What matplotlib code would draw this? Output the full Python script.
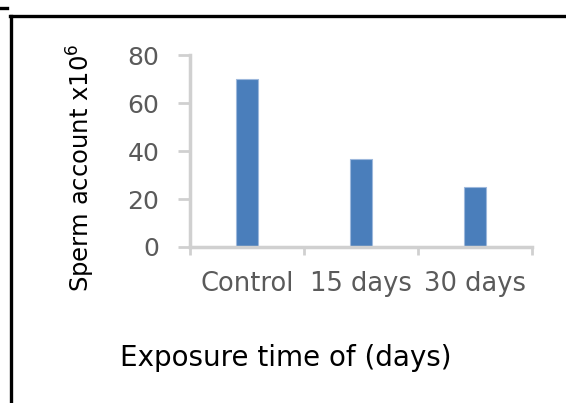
import matplotlib
matplotlib.use("Agg")
import matplotlib.pyplot as plt
from matplotlib.lines import Line2D

# data
groups = ["Control", "15 days", "30 days"]
sperm_count = [70, 36.5, 25]
y_ticks = [0, 20, 40, 60, 80]

axis_grey = "#d0d0d0"
label_grey = "#5a5a5a"
bar_blue = "#4a7ebb"

fig = plt.figure(figsize=(5.66, 4.03), dpi=100)
ax = fig.add_axes([0.3357, 0.3871, 0.6042, 0.4764])

x = range(len(groups))
ax.bar(x, sperm_count, width=0.2, color=bar_blue, edgecolor="#9db8dc", linewidth=0.8)

ax.set_xlim(-0.5, len(groups) - 0.5)
ax.set_ylim(0, 80)
ax.set_yticks(y_ticks)
ax.set_xticks(list(x))
ax.set_xticklabels(groups)
# ticks at the category boundaries
ax.set_xticks([i - 0.5 for i in range(len(groups) + 1)], minor=True)

for side in ["top", "right"]:
    ax.spines[side].set_visible(False)
for side in ["left", "bottom"]:
    ax.spines[side].set_color(axis_grey)
    ax.spines[side].set_linewidth(2.5)

ax.tick_params(axis="y", which="major", length=9, width=2, color=axis_grey,
               pad=13, labelsize=18, labelcolor=label_grey)
ax.tick_params(axis="x", which="major", length=0, pad=17,
               labelsize=18.5, labelcolor=label_grey)
ax.tick_params(axis="x", which="minor", length=6, width=2, color=axis_grey)

ax.set_xlabel("Exposure time of (days)", fontsize=20, color="black")
ax.xaxis.set_label_coords(0.281, -0.578)
ax.xaxis.label.set_va("center")

ax.set_ylabel(r"Sperm account x10$^{6}$", fontsize=17.5, color="black")
ax.yaxis.set_label_coords(-0.319, 0.41)
ax.yaxis.label.set_va("center")

# black frame around the figure panel
fig.add_artist(Line2D([0.0177, 1.0], [0.960, 0.960], color="black", lw=2.4,
                      transform=fig.transFigure))
fig.add_artist(Line2D([0.0194, 0.0194], [0.0, 0.960], color="black", lw=2.4,
                      transform=fig.transFigure))
fig.add_artist(Line2D([0.0, 0.0124], [0.981, 0.981], color="black", lw=2.4,
                      transform=fig.transFigure))

fig.savefig("out.png", dpi=100)
